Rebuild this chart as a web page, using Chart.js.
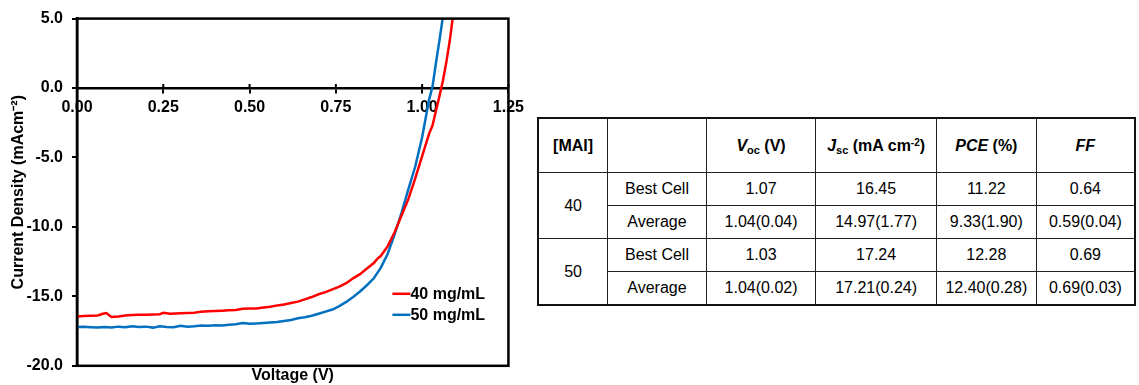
<!DOCTYPE html>
<html>
<head>
<meta charset="utf-8">
<script src="https://cdn.jsdelivr.net/npm/chart.js@4.4.1/dist/chart.umd.min.js"></script>
<style>
    body { margin: 0; background: #fff; width: 1139px; height: 385px; overflow: hidden; position: relative; }
    #jvBox { position: absolute; left: 0; top: 0; width: 530px; height: 385px; }
    #cellTable {
        position: absolute; left: 537px; top: 117px; width: 599px; height: 188px;
        border-collapse: collapse; border: 2px solid #111;
        font-family: Arial, "Liberation Sans", sans-serif; font-size: 16px; color: #000;
    }
    #cellTable td, #cellTable th { border: 1.5px solid #222; text-align: center; padding: 0; }
    #cellTable th { font-weight: bold; height: 53px; }
    #cellTable td { height: 32px; }
    #cellTable sub { font-size: 11px; vertical-align: -3px; line-height: 0; }
    #cellTable sup { font-size: 10px; vertical-align: 5px; line-height: 0; }
</style>
</head>
<body>
<div id="jvBox"><canvas id="jvChart"></canvas></div>
<table id="cellTable"></table>

<script>
// J-V sweep, 40 mg/mL MAI
const voltage40 = [0.00, 0.02, 0.04, 0.06, 0.075, 0.085, 0.10, 0.12, 0.14, 0.16, 0.18, 0.20, 0.22, 0.24, 0.25, 0.27,
    0.30, 0.32, 0.34, 0.36, 0.38, 0.40, 0.42, 0.44, 0.46, 0.48, 0.50, 0.52, 0.54, 0.56, 0.58, 0.60, 0.62, 0.64,
    0.66, 0.68, 0.70, 0.72, 0.74, 0.76, 0.78, 0.80, 0.82, 0.84, 0.86, 0.87, 0.88, 0.90, 0.92, 0.94, 0.96, 0.98,
    1.00, 1.02, 1.03, 1.04, 1.05, 1.06, 1.07, 1.08, 1.09];
const current40 = [-16.45, -16.42, -16.40, -16.38, -16.25, -16.20, -16.48, -16.45, -16.38, -16.35, -16.33, -16.32, -16.30, -16.28, -16.18, -16.25,
    -16.22, -16.20, -16.18, -16.10, -16.08, -16.05, -16.03, -16.00, -15.98, -15.90, -15.87, -15.88, -15.80, -15.75, -15.65, -15.58, -15.48, -15.38,
    -15.22, -15.05, -14.85, -14.70, -14.50, -14.30, -14.05, -13.70, -13.40, -13.00, -12.60, -12.30, -12.10, -11.40, -10.40, -9.20, -8.00, -6.50,
    -4.90, -3.30, -2.70, -1.65, -0.60, 0.50, 1.85, 3.40, 5.30];

// J-V sweep, 50 mg/mL MAI
const voltage50 = [0.00, 0.02, 0.04, 0.06, 0.08, 0.10, 0.12, 0.14, 0.16, 0.18, 0.20, 0.22, 0.24, 0.26, 0.28, 0.30,
    0.32, 0.34, 0.36, 0.38, 0.40, 0.42, 0.44, 0.46, 0.48, 0.50, 0.52, 0.54, 0.56, 0.58, 0.60, 0.62, 0.64, 0.66,
    0.68, 0.70, 0.72, 0.74, 0.76, 0.78, 0.80, 0.82, 0.84, 0.86, 0.88, 0.90, 0.92, 0.94, 0.96, 0.98, 1.00, 1.02,
    1.03, 1.04, 1.05, 1.06];
const current50 = [-17.20, -17.18, -17.22, -17.25, -17.20, -17.25, -17.18, -17.22, -17.15, -17.20, -17.18, -17.25, -17.15, -17.20, -17.22, -17.12,
    -17.18, -17.15, -17.10, -17.12, -17.08, -17.10, -17.05, -17.00, -16.92, -16.98, -16.95, -16.92, -16.88, -16.85, -16.78, -16.70, -16.58, -16.50,
    -16.40, -16.25, -16.10, -15.95, -15.70, -15.40, -15.05, -14.65, -14.20, -13.70, -12.95, -11.95, -10.55, -9.00, -7.30, -5.65, -3.55, -0.85,
    0.10, 1.80, 3.40, 5.10];

const seriesLabels = ['40 mg/mL', '50 mg/mL'];
const seriesColors = ['#ff0000', '#0070c0'];

const voltageTicks = [0, 0.25, 0.5, 0.75, 1.0, 1.25];
const currentTicks = [5, 0, -5, -10, -15, -20];

// device table
const tableHead = ['[MAI]', '', 'V<sub>oc</sub> (V)', 'J<sub>sc</sub> (mA cm<sup>-2</sup>)', 'PCE (%)', 'FF'];
const concentrations = ['40', '50'];
const rowKinds = ['Best Cell', 'Average'];
const vocValues = ['1.07', '1.04(0.04)', '1.03', '1.04(0.02)'];
const jscValues = ['16.45', '14.97(1.77)', '17.24', '17.21(0.24)'];
const pceValues = ['11.22', '9.33(1.90)', '12.28', '12.40(0.28)'];
const ffValues = ['0.64', '0.59(0.04)', '0.69', '0.69(0.03)'];

function buildTable() {
    const table = document.getElementById('cellTable');
    const colWidths = [70, 99, 110, 121, 100, 99];
    let html = '<colgroup>' + colWidths.map(w => `<col style="width:${w}px">`).join('') + '</colgroup>';
    html += '<tr>';
    tableHead.forEach((h, i) => {
        // symbols in the header are set in italics
        let cell = h;
        if (i === 2) cell = '<i>V</i><sub>oc</sub> (V)';
        if (i === 3) cell = '<i>J</i><sub>sc</sub> (mA cm<sup>-2</sup>)';
        if (i === 4) cell = '<i>PCE</i> (%)';
        if (i === 5) cell = '<i>FF</i>';
        html += `<th>${cell}</th>`;
    });
    html += '</tr>';
    concentrations.forEach((c, ci) => {
        rowKinds.forEach((kind, ki) => {
            const r = ci * 2 + ki;
            html += '<tr>';
            if (ki === 0) html += `<td rowspan="2">${c}</td>`;
            html += `<td>${kind}</td><td>${vocValues[r]}</td><td>${jscValues[r]}</td><td>${pceValues[r]}</td><td>${ffValues[r]}</td>`;
            html += '</tr>';
        });
    });
    table.innerHTML = html;
}

// frame around the plot area, plus voltage ticks that cross the zero line
const frameBox = {
    id: 'frameBox',
    afterDraw(chart) {
        const { ctx, chartArea: a } = chart;
        const xs = chart.scales.x;
        const y0 = chart.scales.y.getPixelForValue(0);
        ctx.save();
        ctx.strokeStyle = '#000';
        ctx.lineWidth = 2.5;
        ctx.strokeRect(a.left, a.top, a.right - a.left, a.bottom - a.top);
        ctx.lineWidth = 2;
        ctx.beginPath();
        voltageTicks.forEach(v => {
            const px = xs.getPixelForValue(v);
            ctx.moveTo(px, y0 - 4);
            ctx.lineTo(px, y0);
        });
        ctx.stroke();
        ctx.restore();
    }
};

// legend sitting inside the lower right of the plot
const insetLegend = {
    id: 'insetLegend',
    afterDraw(chart) {
        const { ctx, chartArea: a } = chart;
        ctx.save();
        ctx.font = 'bold 16px Arial, "Liberation Sans", sans-serif';
        ctx.textBaseline = 'middle';
        ctx.fillStyle = '#000';
        chart.data.datasets.forEach((ds, i) => {
            const y = a.bottom - 72 + i * 21;
            const x0 = a.right - 116;
            ctx.strokeStyle = ds.borderColor;
            ctx.lineWidth = 2.5;
            ctx.beginPath();
            ctx.moveTo(x0, y);
            ctx.lineTo(x0 + 18, y);
            ctx.stroke();
            ctx.fillText(ds.label, x0 + 18, y + 1);
        });
        ctx.restore();
    }
};

function toPoints(xs, ys) {
    return xs.map((v, i) => ({ x: v, y: ys[i] }));
}

buildTable();

const boldFont = { family: 'Arial, "Liberation Sans", sans-serif', size: 16, weight: 'bold' };

new Chart(document.getElementById('jvChart'), {
    type: 'line',
    data: {
        datasets: [
            { label: seriesLabels[0], data: toPoints(voltage40, current40), borderColor: seriesColors[0] },
            { label: seriesLabels[1], data: toPoints(voltage50, current50), borderColor: seriesColors[1] }
        ]
    },
    options: {
        responsive: true,
        maintainAspectRatio: false,
        animation: false,
        layout: { padding: { left: 0, top: 9, right: 20, bottom: 0 } },
        elements: {
            line: { borderWidth: 2.5, tension: 0, fill: false },
            point: { radius: 0 }
        },
        plugins: {
            legend: { display: false },
            tooltip: { enabled: false }
        },
        scales: {
            x: {
                type: 'linear',
                min: 0,
                max: 1.25,
                position: { y: 0 },
                afterBuildTicks: s => { s.ticks = voltageTicks.map(v => ({ value: v })); },
                ticks: { font: boldFont, color: '#000', padding: 6, maxRotation: 0,
                    callback: v => Number(v).toFixed(2) },
                grid: { drawOnChartArea: false, tickLength: 4, color: '#000', lineWidth: 2 },
                border: { color: '#000', width: 2.5 }
            },
            xTitle: {
                type: 'linear',
                axis: 'x',
                min: 0,
                max: 1.25,
                position: 'bottom',
                ticks: { display: false },
                grid: { display: false, drawTicks: false },
                border: { display: false },
                title: { display: true, text: 'Voltage (V)', font: boldFont, color: '#000', padding: { top: 0, bottom: 0 } }
            },
            y: {
                type: 'linear',
                min: -20,
                max: 5,
                afterBuildTicks: s => { s.ticks = currentTicks.map(v => ({ value: v })); },
                ticks: { font: boldFont, color: '#000', padding: 9,
                    callback: v => Number(v).toFixed(1) },
                grid: { drawOnChartArea: false, tickLength: 5, color: '#000', lineWidth: 2 },
                border: { color: '#000', width: 2.5 },
                title: { display: true, text: 'Current Density (mAcm⁻²)', font: boldFont, color: '#000', padding: { top: 9.4, bottom: -11.1 } }
            }
        }
    },
    plugins: [frameBox, insetLegend]
});
</script>
</body>
</html>
